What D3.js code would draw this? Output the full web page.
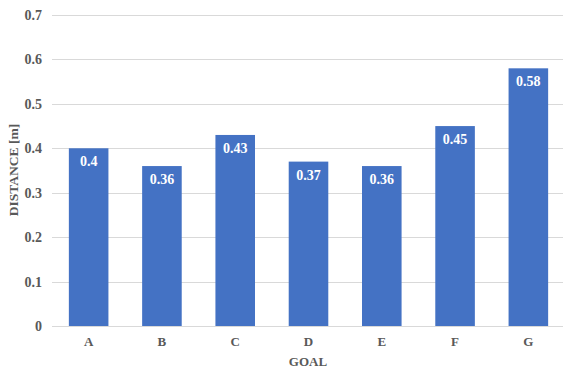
<!DOCTYPE html>
<html>
<head>
<meta charset="utf-8">
<script src="https://cdn.jsdelivr.net/npm/d3@7"></script>
<style>
  html, body { margin: 0; padding: 0; background: #fff; }
  svg { display: block; }
  svg text { font-family: 'Liberation Serif', 'Times New Roman', serif; font-weight: bold; }
</style>
</head>
<body>
<svg id="chart" width="563" height="372"></svg>
<script>
// Mean distance to each goal
const goals = ["A", "B", "C", "D", "E", "F", "G"];
const distances = [0.40, 0.36, 0.43, 0.37, 0.36, 0.45, 0.58];
const labels = ["0.4", "0.36", "0.43", "0.37", "0.36", "0.45", "0.58"];
const yTicks = [0, 0.1, 0.2, 0.3, 0.4, 0.5, 0.6, 0.7];
const yTickLabels = ["0", "0.1", "0.2", "0.3", "0.4", "0.5", "0.6", "0.7"];

const svg = d3.select("#chart");
const margin = { left: 52, right: -2, top: 15, bottom: 46 };
const W = 563, H = 372;

const x = d3.scaleBand()
  .domain(goals)
  .range([margin.left, W - margin.right])
  .paddingInner(0.46)
  .paddingOuter(0.23);

const y = d3.scaleLinear()
  .domain([0, 0.7])
  .range([H - margin.bottom, margin.top]);

// Horizontal gridlines
svg.append("g")
  .selectAll("line")
  .data(yTicks)
  .join("line")
  .attr("x1", margin.left)
  .attr("x2", W)
  .attr("y1", d => Math.round(y(d)) + 0.5)
  .attr("y2", d => Math.round(y(d)) + 0.5)
  .attr("stroke", "#d9d9d9")
  .attr("stroke-width", 1);

// Y axis tick labels
const yAxis = d3.axisLeft(y)
  .tickValues(yTicks)
  .tickFormat((d, i) => yTickLabels[i])
  .tickSize(0)
  .tickPadding(10);
const yG = svg.append("g")
  .attr("transform", `translate(${margin.left},0)`)
  .call(yAxis);
yG.attr("font-family", null).attr("font-size", null);
yG.select(".domain").remove();
yG.selectAll("text")
  .style("font-size", "14px")
  .attr("fill", "#595959");

// Bars
svg.append("g")
  .selectAll("rect")
  .data(goals)
  .join("rect")
  .attr("x", d => x(d))
  .attr("width", x.bandwidth())
  .attr("y", (d, i) => y(distances[i]))
  .attr("height", (d, i) => y(0) - y(distances[i]))
  .attr("fill", "#4472c4");

// Value labels inside bars
svg.append("g")
  .selectAll("text")
  .data(goals)
  .join("text")
  .attr("x", d => x(d) + x.bandwidth() / 2)
  .attr("y", (d, i) => y(distances[i]) + 18)
  .attr("text-anchor", "middle")
  .style("font-size", "14px")
  .attr("fill", "#ffffff")
  .text((d, i) => labels[i]);

// X axis baseline and category labels
svg.append("line")
  .attr("x1", margin.left)
  .attr("x2", W)
  .attr("y1", Math.round(y(0)) + 0.5)
  .attr("y2", Math.round(y(0)) + 0.5)
  .attr("stroke", "#d9d9d9");

const xAxis = d3.axisBottom(x).tickSize(0).tickPadding(11);
const xG = svg.append("g")
  .attr("transform", `translate(0,${y(0)})`)
  .call(xAxis);
xG.attr("font-family", null).attr("font-size", null);
xG.select(".domain").remove();
xG.selectAll("text")
  .style("font-size", "13px")
  .attr("fill", "#595959");

// Axis titles
svg.append("text")
  .attr("x", 308)
  .attr("y", 366)
  .attr("text-anchor", "middle")
  .style("font-size", "13px")
  .attr("fill", "#595959")
  .text("GOAL");

svg.append("text")
  .attr("transform", "translate(18,170) rotate(-90)")
  .attr("text-anchor", "middle")
  .style("font-size", "13.5px")
  .attr("fill", "#595959")
  .text("DISTANCE [m]");
</script>
</body>
</html>
